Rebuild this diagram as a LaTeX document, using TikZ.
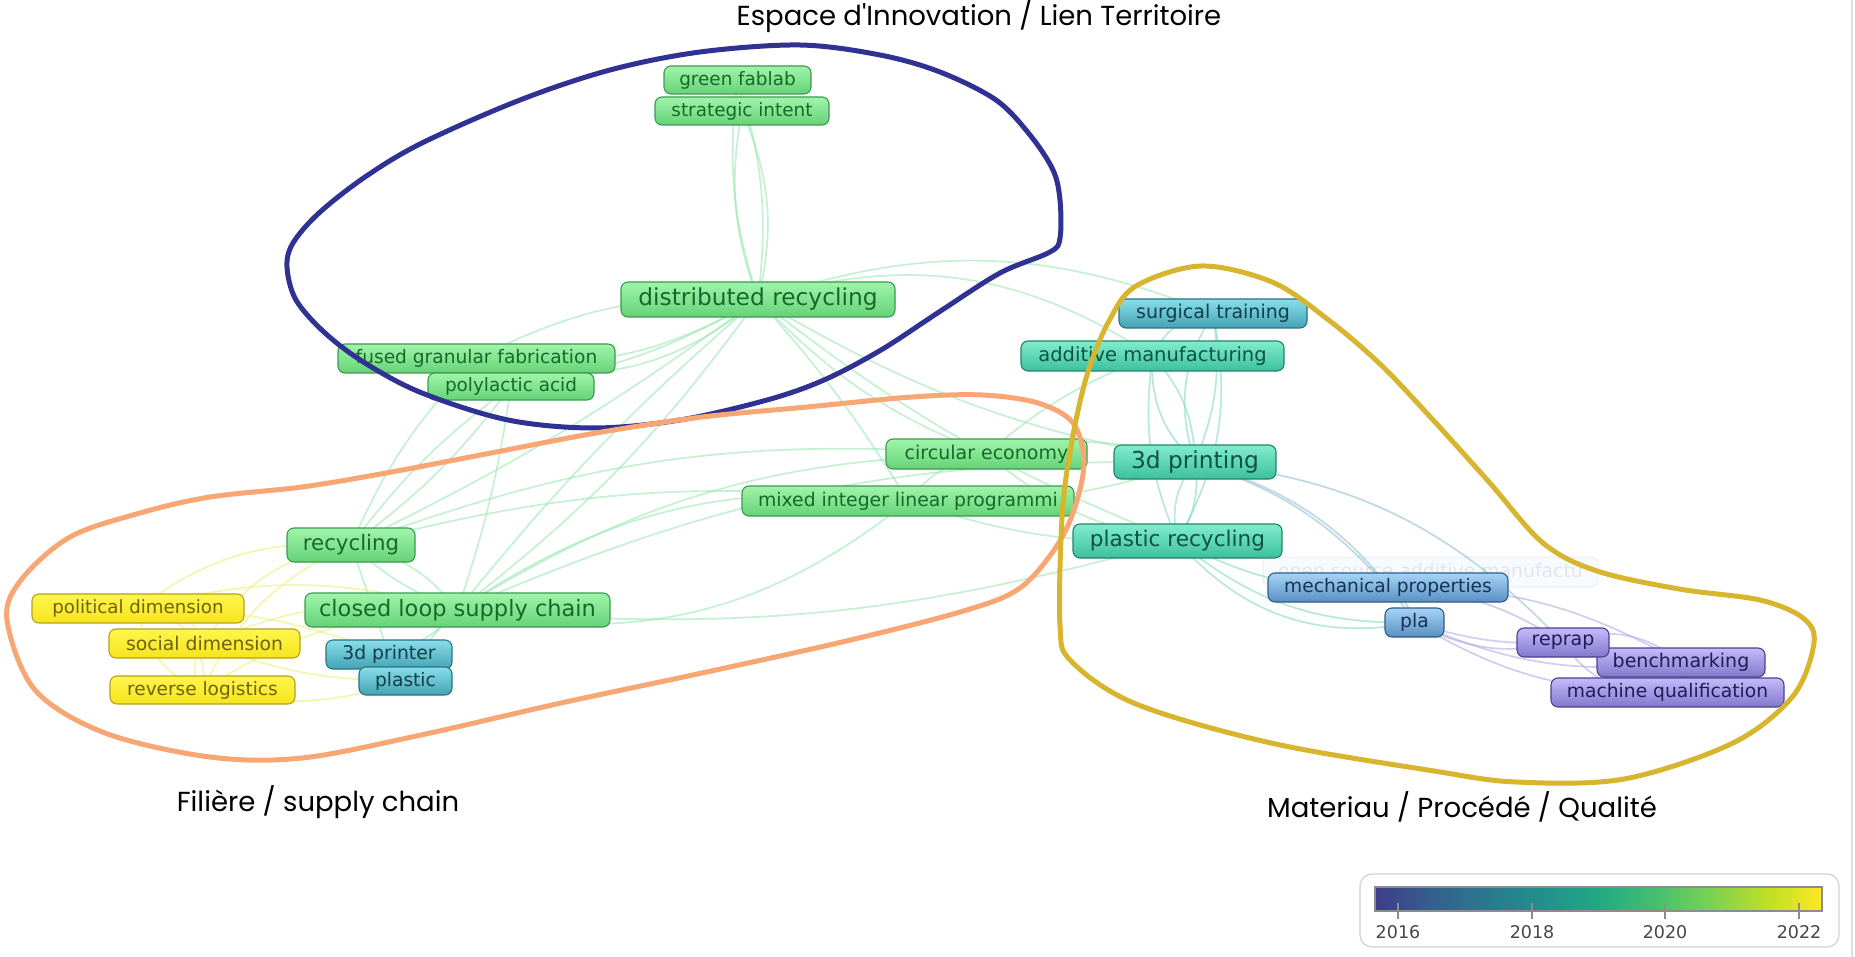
\documentclass[tikz,border=0pt]{standalone}
\usepackage{fontspec}
\newfontfamily\kwfont{DejaVu Sans}
\newfontfamily\labfont{Poppins}
\usetikzlibrary{backgrounds}

% keyword node palettes (by average publication year)
\definecolor{gTop}{HTML}{9FF5AA}\definecolor{gBot}{HTML}{66D277}\definecolor{gBrd}{HTML}{3C9A4E}\definecolor{gTxt}{HTML}{17692A}
\definecolor{yTop}{HTML}{FFF64E}\definecolor{yBot}{HTML}{F6E41C}\definecolor{yBrd}{HTML}{B5A218}\definecolor{yTxt}{HTML}{6C6210}
\definecolor{tTop}{HTML}{80EDCD}\definecolor{tBot}{HTML}{3DC09D}\definecolor{tBrd}{HTML}{23836A}\definecolor{tTxt}{HTML}{0E5242}
\definecolor{cTop}{HTML}{88DEEA}\definecolor{cBot}{HTML}{44A3B3}\definecolor{cBrd}{HTML}{287482}\definecolor{cTxt}{HTML}{113E48}
\definecolor{bTop}{HTML}{A6D4F7}\definecolor{bBot}{HTML}{5A8FC2}\definecolor{bBrd}{HTML}{2E5C89}\definecolor{bTxt}{HTML}{163354}
\definecolor{pTop}{HTML}{C4BAFA}\definecolor{pBot}{HTML}{8278CD}\definecolor{pBrd}{HTML}{4A418F}\definecolor{pTxt}{HTML}{211C57}
% link colours
\definecolor{lkG}{HTML}{9BE8B3}\definecolor{lkY}{HTML}{ECF07E}\definecolor{lkT}{HTML}{86D9C4}
\definecolor{lkB}{HTML}{93C0D6}\definecolor{lkP}{HTML}{B3ADE6}
% cluster outlines
\definecolor{hullBlue}{HTML}{2F3193}\definecolor{hullOrange}{HTML}{F8A674}\definecolor{hullGold}{HTML}{D8B52E}
% colour bar
\definecolor{v0}{HTML}{3F3D89}\definecolor{v1}{HTML}{355F8D}\definecolor{v2}{HTML}{2A788E}
\definecolor{v3}{HTML}{21918C}\definecolor{v4}{HTML}{22A884}\definecolor{v5}{HTML}{44BF70}
\definecolor{v6}{HTML}{7AD151}\definecolor{v7}{HTML}{BDDF26}\definecolor{v8}{HTML}{FDE725}

\tikzset{
  kw/.style={rounded corners=7pt, draw, line width=1.1pt, inner sep=0pt, align=center},
  fs/.style={font={\kwfont\fontsize{#1}{#1}\selectfont}},
  kwgreen/.style={kw, top color=gTop, bottom color=gBot, draw=gBrd, text=gTxt},
  kwyellow/.style={kw, top color=yTop, bottom color=yBot, draw=yBrd, text=yTxt},
  kwteal/.style={kw, top color=tTop, bottom color=tBot, draw=tBrd, text=tTxt},
  kwcyan/.style={kw, top color=cTop, bottom color=cBot, draw=cBrd, text=cTxt},
  kwblue/.style={kw, top color=bTop, bottom color=bBot, draw=bBrd, text=bTxt},
  kwpurple/.style={kw, top color=pTop, bottom color=pBot, draw=pBrd, text=pTxt},
  lk/.style={line width=1.7pt, opacity=0.6},
  hull/.style={line width=5pt, line join=round},
  title/.style={font={\labfont\fontsize{27.5}{27.5}\selectfont}, text=black, inner sep=0pt},
}

\begin{document}
\begin{tikzpicture}[x=1pt, y=-1pt]
\useasboundingbox (0,0) rectangle (1855,957);

% ---------- keyword nodes ----------
\node[kwgreen, fs=18.4, minimum width=147, minimum height=28] (fablab) at (737.5,80) {green fablab};
\node[kwgreen, fs=18.4, minimum width=174, minimum height=28] (strat) at (742,111) {strategic intent};
\node[kwgreen, fs=23.3, minimum width=274, minimum height=35] (dist) at (758,299.5) {distributed recycling};
\node[kwgreen, fs=18.6, minimum width=277, minimum height=29] (fgf) at (476.5,358.5) {fused granular fabrication};
\node[kwgreen, fs=18.4, minimum width=166, minimum height=27] (pacid) at (511,386.5) {polylactic acid};
\node[kwgreen, fs=21.3, minimum width=128, minimum height=34] (recyc) at (351,545) {recycling};
\node[kwyellow, fs=18.2, minimum width=212, minimum height=29] (pol) at (138,608.5) {political dimension};
\node[kwyellow, fs=18.8, minimum width=191, minimum height=29] (soc) at (204.5,643.5) {social dimension};
\node[kwyellow, fs=18.5, minimum width=185, minimum height=28] (rev) at (202.5,690) {reverse logistics};
\node[kwgreen, fs=22.5, minimum width=305, minimum height=34] (clsc) at (457.5,610) {closed loop supply chain};
\node[kwcyan, fs=18.8, minimum width=126, minimum height=29] (printer) at (389,654.5) {3d printer};
\node[kwcyan, fs=18.6, minimum width=93, minimum height=28] (plastic) at (405.5,681) {plastic};
\node[kwgreen, fs=19, minimum width=201, minimum height=30] (circ) at (986.5,454) {circular economy};
\node[kwgreen, fs=18.8, minimum width=332, minimum height=30] (milp) at (908,501) {mixed integer linear programmi};
\node[kwcyan, fs=19, minimum width=188, minimum height=29] (surg) at (1213,313.5) {surgical training};
\node[kwteal, fs=19.5, minimum width=263, minimum height=30] (addm) at (1152.5,356) {additive manufacturing};
\node[kwteal, fs=23.3, minimum width=162, minimum height=34] (print3d) at (1195,462) {3d printing};
\node[kwteal, fs=21.6, minimum width=209, minimum height=34] (precyc) at (1177.5,541) {plastic recycling};
\node[kw, fs=18.8, minimum width=335, minimum height=30, fill=bTop, draw=bBrd, text=bTxt, opacity=0.07, text opacity=0.1] (osam) at (1430.5,572) {open source additive manufactu};
\node[kwblue, fs=18.6, minimum width=240, minimum height=29] (mech) at (1388,587.5) {mechanical properties};
\node[kwblue, fs=18.8, minimum width=59, minimum height=29] (pla) at (1414.5,622.5) {pla};
\node[kwpurple, fs=19, minimum width=168, minimum height=29] (bench) at (1681,662.5) {benchmarking};
\node[kwpurple, fs=18.7, minimum width=233, minimum height=29] (mq) at (1667.5,692.5) {machine qualification};
\node[kwpurple, fs=19, minimum width=92, minimum height=29] (reprap) at (1563,642.5) {reprap};

% ---------- co-occurrence links (behind the nodes) ----------
\begin{pgfonlayer}{background}
\fill[white] (0,0) rectangle (1855,957);
\draw[lk, lkG] (fablab.center) to[bend left=12] (dist.center);
\draw[lk, lkG] (fablab.center) to[bend right=12] (dist.center);
\draw[lk, lkG] (strat.center) to[bend left=18] (dist.center);
\draw[lk, lkG] (strat.center) to[bend right=15] (dist.center);
\draw[lk, lkG] (dist.center) to[bend left=18] (fgf.center);
\draw[lk, lkG] (dist.center) to[bend left=28] (fgf.center);
\draw[lk, lkG] (dist.center) to[bend right=15] (fgf.center);
\draw[lk, lkG] (dist.center) to[bend left=10] (pacid.center);
\draw[lk, lkG] (dist.center) to[bend left=5] (recyc.center);
\draw[lk, lkG] (dist.center) to[bend right=5] (clsc.center);
\draw[lk, lkG] (dist.center) to[bend left=8] (clsc.center);
\draw[lk, lkG] (dist.center) to[bend right=12] (circ.center);
\draw[lk, lkG] (dist.center) to[bend left=5] (milp.center);
\draw[lk, lkG] (dist.center) to[bend right=10] (print3d.center);
\draw[lk, lkG] (dist.center) to[bend right=8] (precyc.center);
\draw[lk, lkG] (dist.center) to[bend left=25] (addm.center);
\draw[lk, lkG] (dist.center) to[bend left=20] (surg.center);
\draw[lk, lkG] (fgf.center) to[bend right=10] (recyc.center);
\draw[lk, lkG] (pacid.center) to[bend left=8] (recyc.center);
\draw[lk, lkG] (pacid.center) to[bend right=8] (recyc.center);
\draw[lk, lkG] (pacid.center) to[bend left=5] (clsc.center);
\draw[lk, lkG] (recyc.center) to[bend left=12] (circ.center);
\draw[lk, lkG] (recyc.center) to[bend left=20] (clsc.center);
\draw[lk, lkG] (recyc.center) to[bend right=10] (clsc.center);
\draw[lk, lkG] (recyc.center) to[bend left=10] (milp.center);
\draw[lk, lkG] (recyc.center) to (printer.center);
\draw[lk, lkG] (clsc.center) to[bend left=20] (milp.center);
\draw[lk, lkG] (clsc.center) to[bend right=25] (milp.center);
\draw[lk, lkG] (clsc.center) to[bend left=15] (circ.center);
\draw[lk, lkG] (clsc.center) to[bend left=12] (print3d.center);
\draw[lk, lkG] (clsc.center) to[bend right=10] (precyc.center);
\draw[lk, lkG] (clsc.center) to[bend left=15] (printer.center);
\draw[lk, lkG] (clsc.center) to[bend right=10] (plastic.center);
\draw[lk, lkG] (milp.center) to[bend left=20] (circ.center);
\draw[lk, lkG] (milp.center) to[bend right=10] (print3d.center);
\draw[lk, lkG] (milp.center) to[bend right=10] (precyc.center);
\draw[lk, lkG] (circ.center) to[bend left=15] (print3d.center);
\draw[lk, lkG] (circ.center) to[bend right=15] (precyc.center);
\draw[lk, lkG] (circ.center) to[bend left=10] (addm.center);
\draw[lk, lkT] (print3d.center) to[bend left=25] (addm.center);
\draw[lk, lkT] (print3d.center) to[bend right=20] (addm.center);
\draw[lk, lkT] (print3d.center) to[bend left=25] (surg.center);
\draw[lk, lkT] (print3d.center) to[bend right=15] (surg.center);
\draw[lk, lkT] (print3d.center) to[bend left=20] (precyc.center);
\draw[lk, lkT] (print3d.center) to[bend right=25] (precyc.center);
\draw[lk, lkT] (precyc.center) to[bend left=15] (addm.center);
\draw[lk, lkT] (precyc.center) to[bend right=20] (surg.center);
\draw[lk, lkT] (addm.center) to[bend left=30] (surg.center);
\draw[lk, lkB] (print3d.center) to[bend left=15] (mech.center);
\draw[lk, lkB] (print3d.center) to[bend left=20] (pla.center);
\draw[lk, lkT] (precyc.center) to[bend right=15] (mech.center);
\draw[lk, lkT] (precyc.center) to[bend right=20] (pla.center);
\draw[lk, lkT] (precyc.center) to[bend right=30] (pla.center);
\draw[lk, lkB] (print3d.center) to[bend left=20] (reprap.center);
\draw[lk, lkB] (mech.center) to[bend left=20] (pla.center);
\draw[lk, lkP] (mech.center) to[bend left=15] (reprap.center);
\draw[lk, lkP] (mech.center) to[bend left=15] (bench.center);
\draw[lk, lkP] (pla.center) to[bend right=10] (reprap.center);
\draw[lk, lkP] (pla.center) to[bend right=20] (reprap.center);
\draw[lk, lkP] (pla.center) to[bend right=15] (bench.center);
\draw[lk, lkP] (pla.center) to[bend right=15] (mq.center);
\draw[lk, lkP] (reprap.center) to[bend left=30] (bench.center);
\draw[lk, lkP] (reprap.center) to[bend right=30] (mq.center);
\draw[lk, lkP] (bench.center) to[bend left=40] (mq.center);
\draw[lk, lkY] (pol.center) to[bend left=40] (soc.center);
\draw[lk, lkY] (pol.center) to[bend left=50] (rev.center);
\draw[lk, lkY] (pol.center) to[bend right=30] (rev.center);
\draw[lk, lkY] (soc.center) to[bend right=40] (rev.center);
\draw[lk, lkY] (pol.center) to[bend left=20] (recyc.center);
\draw[lk, lkY] (soc.center) to[bend left=25] (recyc.center);
\draw[lk, lkY] (rev.center) to[bend left=20] (recyc.center);
\draw[lk, lkY] (pol.center) to[bend left=15] (clsc.center);
\draw[lk, lkY] (soc.center) to[bend left=15] (clsc.center);
\draw[lk, lkY] (rev.center) to[bend left=15] (clsc.center);
\draw[lk, lkY] (pol.center) to[bend left=10] (printer.center);
\draw[lk, lkY] (rev.center) to[bend right=15] (plastic.center);
\draw[lk, lkY] (soc.center) to[bend right=10] (plastic.center);
\end{pgfonlayer}

% ---------- cluster outlines ----------
\draw[hull, hullBlue] plot[smooth cycle, tension=0.55] coordinates {
  (287,267) (293,243) (319,213) (365,177) (422,143) (520,100) (610,70) (700,52)
  (800,45) (880,55) (940,72) (996,100) (1030,135) (1053,170) (1060,200) (1060,238)
  (1050,252) (1000,273) (939,312) (881,350) (824,380) (767,400) (680,420) (594,428)
  (508,420) (422,393) (365,363) (325,333) (296,300)};
\draw[hull, hullOrange] plot[smooth cycle, tension=0.55] coordinates {
  (7,620) (21,580) (70,537) (140,513) (210,497) (302,487) (386,473) (491,453)
  (596,433) (702,417) (807,407) (912,397) (982,395) (1038,403) (1073,423) (1084,463)
  (1073,513) (1052,553) (1017,590) (960,612) (842,642) (702,673) (561,703) (421,735)
  (302,758) (210,757) (105,733) (35,690)};
\draw[hull, hullGold] plot[smooth cycle, tension=0.55] coordinates {
  (1201,266) (1272,282) (1326,318) (1380,364) (1434,421) (1489,482) (1543,543)
  (1597,571) (1679,589) (1760,600) (1803,618) (1814,643) (1793,696) (1733,743)
  (1624,779) (1516,782) (1434,771) (1271,743) (1136,704) (1071,661) (1060,625)
  (1062,518) (1071,446) (1087,375) (1109,321) (1136,286)};

% ---------- cluster captions ----------
\node[title] (capA) at (979,16) {Espace d'Innovation / Lien Territoire};
\node[title] (capB) at (318,802) {Filière / supply chain};
\node[title] (capC) at (1462,807) {Materiau / Procédé / Qualité};

% ---------- year colour scale ----------
\draw[line width=1.2pt, draw=black!18, fill=white, rounded corners=12pt] (1360,874) rectangle (1839,947);
\shade[left color=v0, right color=v1] (1375,887) rectangle (1431.5,911);
\shade[left color=v1, right color=v2] (1431,887) rectangle (1487.5,911);
\shade[left color=v2, right color=v3] (1487,887) rectangle (1543.5,911);
\shade[left color=v3, right color=v4] (1543,887) rectangle (1599.5,911);
\shade[left color=v4, right color=v5] (1599,887) rectangle (1654.5,911);
\shade[left color=v5, right color=v6] (1654,887) rectangle (1710.5,911);
\shade[left color=v6, right color=v7] (1710,887) rectangle (1766.5,911);
\shade[left color=v7, right color=v8] (1766,887) rectangle (1822,911);
\draw[line width=1.5pt, draw=black!45] (1375,887) rectangle (1822,911);
\foreach \tx/\yr in {1398/2016, 1532/2018, 1665/2020, 1799/2022} {
  \draw[line width=1.8pt, draw=black!45] (\tx,903) -- (\tx,919);
  \node[font={\kwfont\fontsize{17.5}{17.5}\selectfont}, text=black!72, inner sep=0pt] at (\tx,932) {\yr};
}
% window edge on the right
\draw[line width=2pt, draw=black!12] (1852,0) -- (1852,957);
\end{tikzpicture}
\end{document}
